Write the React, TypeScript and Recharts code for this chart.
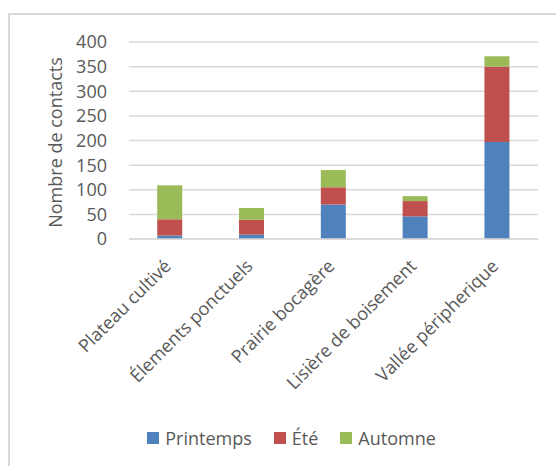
import React from 'react';
import { BarChart, Bar, XAxis, YAxis, CartesianGrid, Legend } from 'recharts';

// habitats (x categories)
const habitats = [
   'Plateau cultivé',
   'Élements ponctuels',
   'Prairie bocagère',
   'Lisière de boisement',
   'Vallée péripherique',
];

// contacts per season
const seasons = ['Printemps', 'Été', 'Automne'];
const printemps = [7, 9, 70, 46, 197];
const ete = [33, 30, 35, 31, 153];
const automne = [69, 24, 35, 10, 21];

const yTicks = [0, 50, 100, 150, 200, 250, 300, 350, 400];

const FONT = "'Open Sans', sans-serif";
const SIZE = 18;
const TEXT = '#595959';
const GRID = '#d9d9d9';

const data = habitats.map((name, i) => ({
   name,
   Printemps: printemps[i],
   Été: ete[i],
   Automne: automne[i],
}));

function AngledTick({ x, y, payload }: any) {
   return (
      <g transform={`translate(${x - 2},${y + 16})`}>
         <text
            x={0}
            y={0}
            dy={6}
            textAnchor="end"
            transform="rotate(-45)"
            fill={TEXT}
            fontSize={SIZE}
            fontFamily={FONT}
         >
            {payload.value}
         </text>
      </g>
   );
}

function YLabel({ viewBox }: any) {
   const cx = viewBox.x + 2;
   const cy = viewBox.y + viewBox.height / 2 + 2;
   return (
      <text
         x={cx}
         y={cy}
         transform={`rotate(-90, ${cx}, ${cy})`}
         textAnchor="middle"
         fill={TEXT}
         fontSize={SIZE}
         fontFamily={FONT}
      >
         Nombre de contacts
      </text>
   );
}

function SeasonLegend({ payload }: any) {
   const items = [...(payload || [])].sort(
      (a: any, b: any) => seasons.indexOf(a.value) - seasons.indexOf(b.value)
   );
   return (
      <div
         style={{
            display: 'flex',
            justifyContent: 'center',
            alignItems: 'center',
            height: 30,
            fontFamily: FONT,
            fontSize: SIZE,
            color: TEXT,
         }}
      >
         {items.map((item: any, i: number) => (
            <div
               key={item.value}
               style={{ display: 'flex', alignItems: 'center', marginLeft: i === 0 ? 0 : 22 }}
            >
               <span
                  style={{
                     display: 'inline-block',
                     width: 12,
                     height: 12,
                     background: item.color,
                     marginRight: 6,
                  }}
               />
               <span>{item.value}</span>
            </div>
         ))}
      </div>
   );
}

export default function App() {
   return (
      <div
         style={{
            position: 'fixed',
            left: 0,
            top: 0,
            width: 556,
            height: 466,
            overflow: 'hidden',
            background: '#fff',
         }}
      >
         <div
            style={{
               position: 'absolute',
               left: 8,
               top: 13,
               borderLeft: `2px solid ${GRID}`,
               borderTop: `2px solid ${GRID}`,
               width: 600,
               height: 460,
            }}
         >
            <BarChart
               width={563}
               height={451}
               data={data}
               barCategoryGap="34.5%"
               margin={{ top: 27, right: 35, bottom: 13, left: 50 }}
            >
               <CartesianGrid vertical={false} stroke={GRID} strokeWidth={1.5} />
               <XAxis
                  dataKey="name"
                  interval={0}
                  tickLine={false}
                  axisLine={{ stroke: GRID, strokeWidth: 1.5 }}
                  height={184}
                  tick={<AngledTick />}
               />
               <YAxis
                  domain={[0, 400]}
                  ticks={yTicks}
                  interval={0}
                  width={69}
                  axisLine={false}
                  tickLine={false}
                  tickSize={0}
                  tickMargin={22}
                  tick={{ fill: TEXT, fontSize: SIZE, fontFamily: FONT }}
                  label={<YLabel />}
               />
               <Legend
                  verticalAlign="bottom"
                  height={30}
                  wrapperStyle={{ left: 0, width: 563 }}
                  content={<SeasonLegend />}
               />
               <Bar dataKey="Printemps" stackId="a" fill="#4f81bd" isAnimationActive={false} />
               <Bar dataKey="Été" stackId="a" fill="#c0504d" isAnimationActive={false} />
               <Bar dataKey="Automne" stackId="a" fill="#9bbb59" isAnimationActive={false} />
            </BarChart>
         </div>
      </div>
   );
}
